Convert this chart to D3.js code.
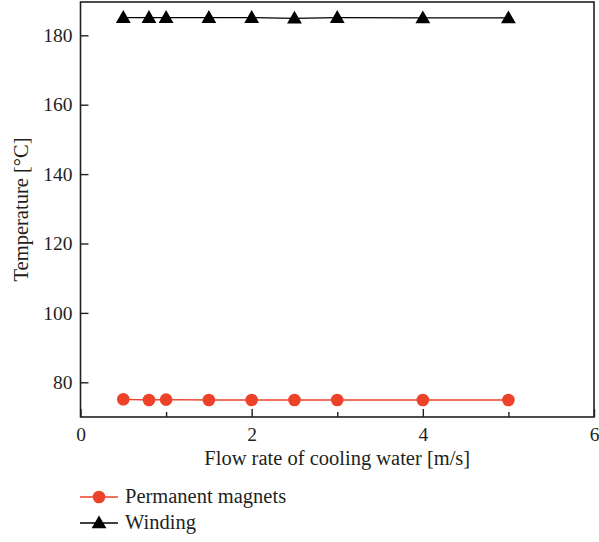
<!DOCTYPE html>
<html>
<head>
<meta charset="utf-8">
<script src="https://cdn.jsdelivr.net/npm/d3@7"></script>
<style>
  body { margin: 0; background: #fff; }
  text { font-family: "Liberation Serif", "DejaVu Serif", serif; fill: #231f20; }
</style>
</head>
<body>
<div id="chart"></div>
<script>
var svgWidth = 599;
var svgHeight = 542;

var margin = { top: 2, right: 5, bottom: 125, left: 80.5 };
var chartWidth = svgWidth - margin.left - margin.right;
var chartHeight = svgHeight - margin.top - margin.bottom;

// data
var flowRate = [0.5, 0.8, 1.0, 1.5, 2.0, 2.5, 3.0, 4.0, 5.0];
var magnetTemp = [75.1, 74.9, 75.0, 74.9, 74.9, 74.9, 74.9, 74.9, 74.9];
var windingTemp = [185.1, 185.1, 185.1, 185.1, 185.1, 184.9, 185.1, 185.0, 185.0];
var xTicks = [0, 2, 4, 6];
var xMinorTicks = [1, 3, 5];
var yTicks = [80, 100, 120, 140, 160, 180];

var red = "#ee4129";

var svg = d3.select("#chart").append("svg")
  .attr("width", svgWidth)
  .attr("height", svgHeight);

var chartGroup = svg.append("g")
  .attr("transform", `translate(${margin.left}, ${margin.top})`);

var x = d3.scaleLinear().domain([0, 6]).range([0, chartWidth]);
var y = d3.scaleLinear().domain([70, 189.6]).range([chartHeight, 0]);

// frame
chartGroup.append("rect")
  .attr("width", chartWidth)
  .attr("height", chartHeight)
  .attr("fill", "none")
  .attr("stroke", "#231f20")
  .attr("stroke-width", 1.6);

// x axis, ticks pointing inward
var xAxis = chartGroup.append("g")
  .attr("transform", `translate(0, ${chartHeight})`)
  .call(d3.axisBottom(x).tickValues(xTicks).tickFormat(d3.format("d"))
    .tickSizeInner(-8).tickSizeOuter(0).tickPadding(10));
chartGroup.append("g")
  .attr("transform", `translate(0, ${chartHeight})`)
  .call(d3.axisBottom(x).tickValues(xMinorTicks).tickSizeInner(-5).tickSizeOuter(0).tickFormat(""));

var yAxis = chartGroup.append("g")
  .call(d3.axisLeft(y).tickValues(yTicks).tickFormat(d3.format("d"))
    .tickSizeInner(-8).tickSizeOuter(0).tickPadding(8));

chartGroup.selectAll(".domain").attr("stroke", "none");
chartGroup.selectAll(".tick line").attr("stroke", "#231f20").attr("stroke-width", 1.4);
chartGroup.selectAll(".tick text")
  .attr("font-size", "19.5px")
  .attr("font-family", "Liberation Serif, serif")
  .attr("fill", "#231f20");

// lines
var line = d3.line().x(d => x(d[0])).y(d => y(d[1]));

var magnetData = flowRate.map((f, i) => [f, magnetTemp[i]]);
var windingData = flowRate.map((f, i) => [f, windingTemp[i]]);

chartGroup.append("path")
  .datum(magnetData)
  .attr("d", line)
  .attr("fill", "none")
  .attr("stroke", red)
  .attr("stroke-width", 1.3);

chartGroup.append("path")
  .datum(windingData)
  .attr("d", line)
  .attr("fill", "none")
  .attr("stroke", "#000")
  .attr("stroke-width", 1.3);

chartGroup.append("g")
  .selectAll("circle")
  .data(magnetData)
  .enter()
  .append("circle")
  .attr("cx", d => x(d[0]))
  .attr("cy", d => y(d[1]))
  .attr("r", 6.3)
  .attr("fill", red);

var tri = d3.symbol().type(d3.symbolTriangle).size(95);
chartGroup.append("g")
  .selectAll("path")
  .data(windingData)
  .enter()
  .append("path")
  .attr("d", tri)
  .attr("transform", d => `translate(${x(d[0])}, ${y(d[1]) + 1})`)
  .attr("fill", "#000");

// axis titles
svg.append("text")
  .attr("x", margin.left + chartWidth / 2)
  .attr("y", 465)
  .attr("text-anchor", "middle")
  .attr("font-size", "20.5px")
  .text("Flow rate of cooling water [m/s]");

svg.append("text")
  .attr("transform", `translate(28, ${margin.top + chartHeight / 2}) rotate(-90)`)
  .attr("text-anchor", "middle")
  .attr("font-size", "20.5px")
  .text("Temperature [°C]");

// legend
var legendItems = [
  { name: "Permanent magnets", color: red, shape: "circle" },
  { name: "Winding", color: "#000", shape: "triangle" }
];
var legend = svg.append("g").attr("transform", "translate(80, 497)");
legendItems.forEach(function(item, i) {
  var g = legend.append("g").attr("transform", `translate(0, ${i * 26})`);
  g.append("line")
    .attr("x1", 0).attr("x2", 38)
    .attr("stroke", item.color)
    .attr("stroke-width", 1.3);
  if (item.shape === "circle") {
    g.append("circle").attr("cx", 19).attr("r", 6.3).attr("fill", item.color);
  } else {
    g.append("path").attr("d", tri).attr("transform", "translate(19, 1)").attr("fill", item.color);
  }
  g.append("text")
    .attr("x", 45)
    .attr("y", 6)
    .attr("font-size", "20.5px")
    .text(item.name);
});
</script>
</body>
</html>
